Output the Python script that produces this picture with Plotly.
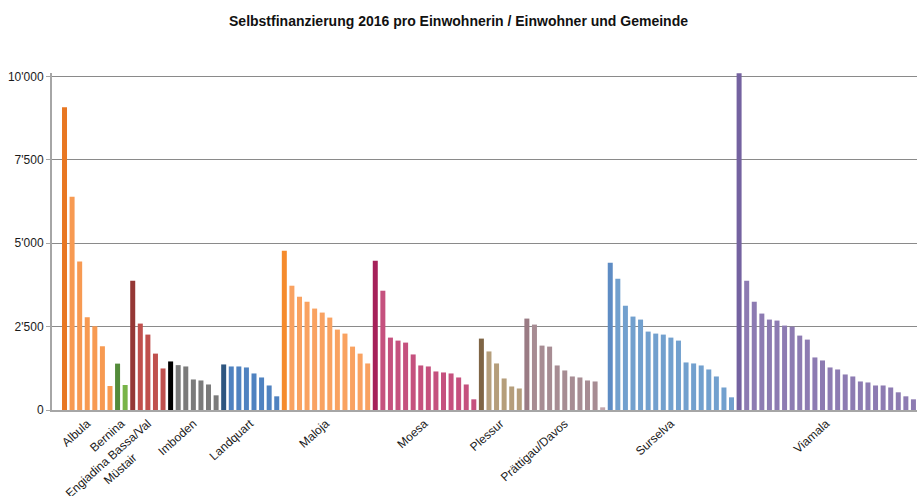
import plotly.graph_objects as go

# ---- data ----
regions = ["Albula", "Bernina", "Engiadina Bassa/Val<br>Müstair" + "\u00a0" * 10, "Imboden",
           "Landquart", "Maloja", "Moesa", "Plessur", "Prättigau/Davos", "Surselva", "Viamala"]

albula = [9070, 6390, 4450, 2780, 2510, 1910, 720]
bernina = [1390, 750]
engiadina = [3875, 2590, 2260, 1690, 1245]
imboden = [1455, 1345, 1305, 915, 885, 765, 440]
landquart = [1365, 1305, 1305, 1275, 1095, 975, 735, 410]
maloja = [4770, 3725, 3395, 3245, 3040, 2920, 2770, 2410, 2290, 1900, 1690, 1395]
moesa = [4470, 3575, 2170, 2080, 2020, 1665, 1335, 1305, 1155, 1125, 1095, 975, 765, 320]
plessur = [2140, 1755, 1395, 945, 705, 645]
praettigau = [2740, 2560, 1930, 1900, 1335, 1185, 1005, 975, 885, 855, 80]
surselva = [4410, 3935, 3125, 2800, 2710, 2350, 2290, 2260, 2170, 2080, 1425,
            1395, 1335, 1215, 1005, 675, 380]
viamala = [10090, 3875, 3245, 2890, 2710, 2680, 2530, 2500, 2230, 2110, 1575, 1485,
           1275, 1215, 1065, 1005, 855, 825, 735, 735, 675, 530, 410, 320]

groups = [albula, bernina, engiadina, imboden, landquart, maloja, moesa,
          plessur, praettigau, surselva, viamala]

# first bar (dark) / other bars (light) colour per region
dark_colors = ["#E87722", "#548B3A", "#953735", "#000000", "#2E5680", "#F58B2C",
               "#A6215A", "#7F6545", "#9A7B84", "#5E8CC4", "#7462A0"]
light_colors = ["#F79A52", "#78B448", "#C0504D", "#7B7B7B", "#4F82C0", "#F9A261",
                "#C5517E", "#B59E7B", "#A78C93", "#72A0CE", "#8D7BB2"]

y_tickvals = [0, 2500, 5000, 7500, 10000]
y_ticktext = ["0", "2'500", "5'000", "7'500", "10'000"]

# ---- build ----
xs, ys, cols = [], [], []
tickvals = []
idx = 0
for g, vals in enumerate(groups):
    start = idx
    for k, v in enumerate(vals):
        xs.append(idx)
        ys.append(v)
        if k == 0:
            cols.append(dark_colors[g])
        elif g == 8 and k == len(vals) - 1:
            cols.append("#C3A6AC")
        else:
            cols.append(light_colors[g])
        idx += 1
    tickvals.append((start + idx - 1) / 2)

fig = go.Figure(go.Bar(x=xs, y=ys, marker=dict(color=cols, line=dict(width=0)),
                       hoverinfo="y"))

fig.update_layout(
    width=917, height=496,
    margin=dict(l=52, r=0, t=73, b=86, autoexpand=False),
    paper_bgcolor="white", plot_bgcolor="white",
    bargap=0.34,
    showlegend=False,
    font=dict(family="Liberation Sans, Arial", size=12, color="#1a1a1a"),
    title=dict(text="<b>Selbstfinanzierung 2016 pro Einwohnerin / Einwohner und Gemeinde</b>",
               x=0.5, xanchor="center", y=0.958, yanchor="middle",
               font=dict(size=14, color="#111111")),
)
fig.update_xaxes(
    range=[-1.65, 112.47], automargin=False,
    tickmode="array", tickvals=tickvals, ticktext=regions,
    tickangle=-42, ticks="", showgrid=False, zeroline=False,
    showline=True, linecolor="#A6A6A6", linewidth=2,
    tickfont=dict(size=12, color="#1a1a1a"),
)
fig.update_yaxes(
    range=[0, 10100], automargin=False,
    tickmode="array", tickvals=y_tickvals, ticktext=y_ticktext,
    showgrid=True, gridcolor="#8A8A8A", gridwidth=1,
    zeroline=False, showline=True, linecolor="#A6A6A6", linewidth=2,
    ticks="outside", ticklen=4, tickcolor="#A6A6A6", tickwidth=1,
    tickfont=dict(size=12, color="#1a1a1a"),
)

fig.write_html("out.html")
